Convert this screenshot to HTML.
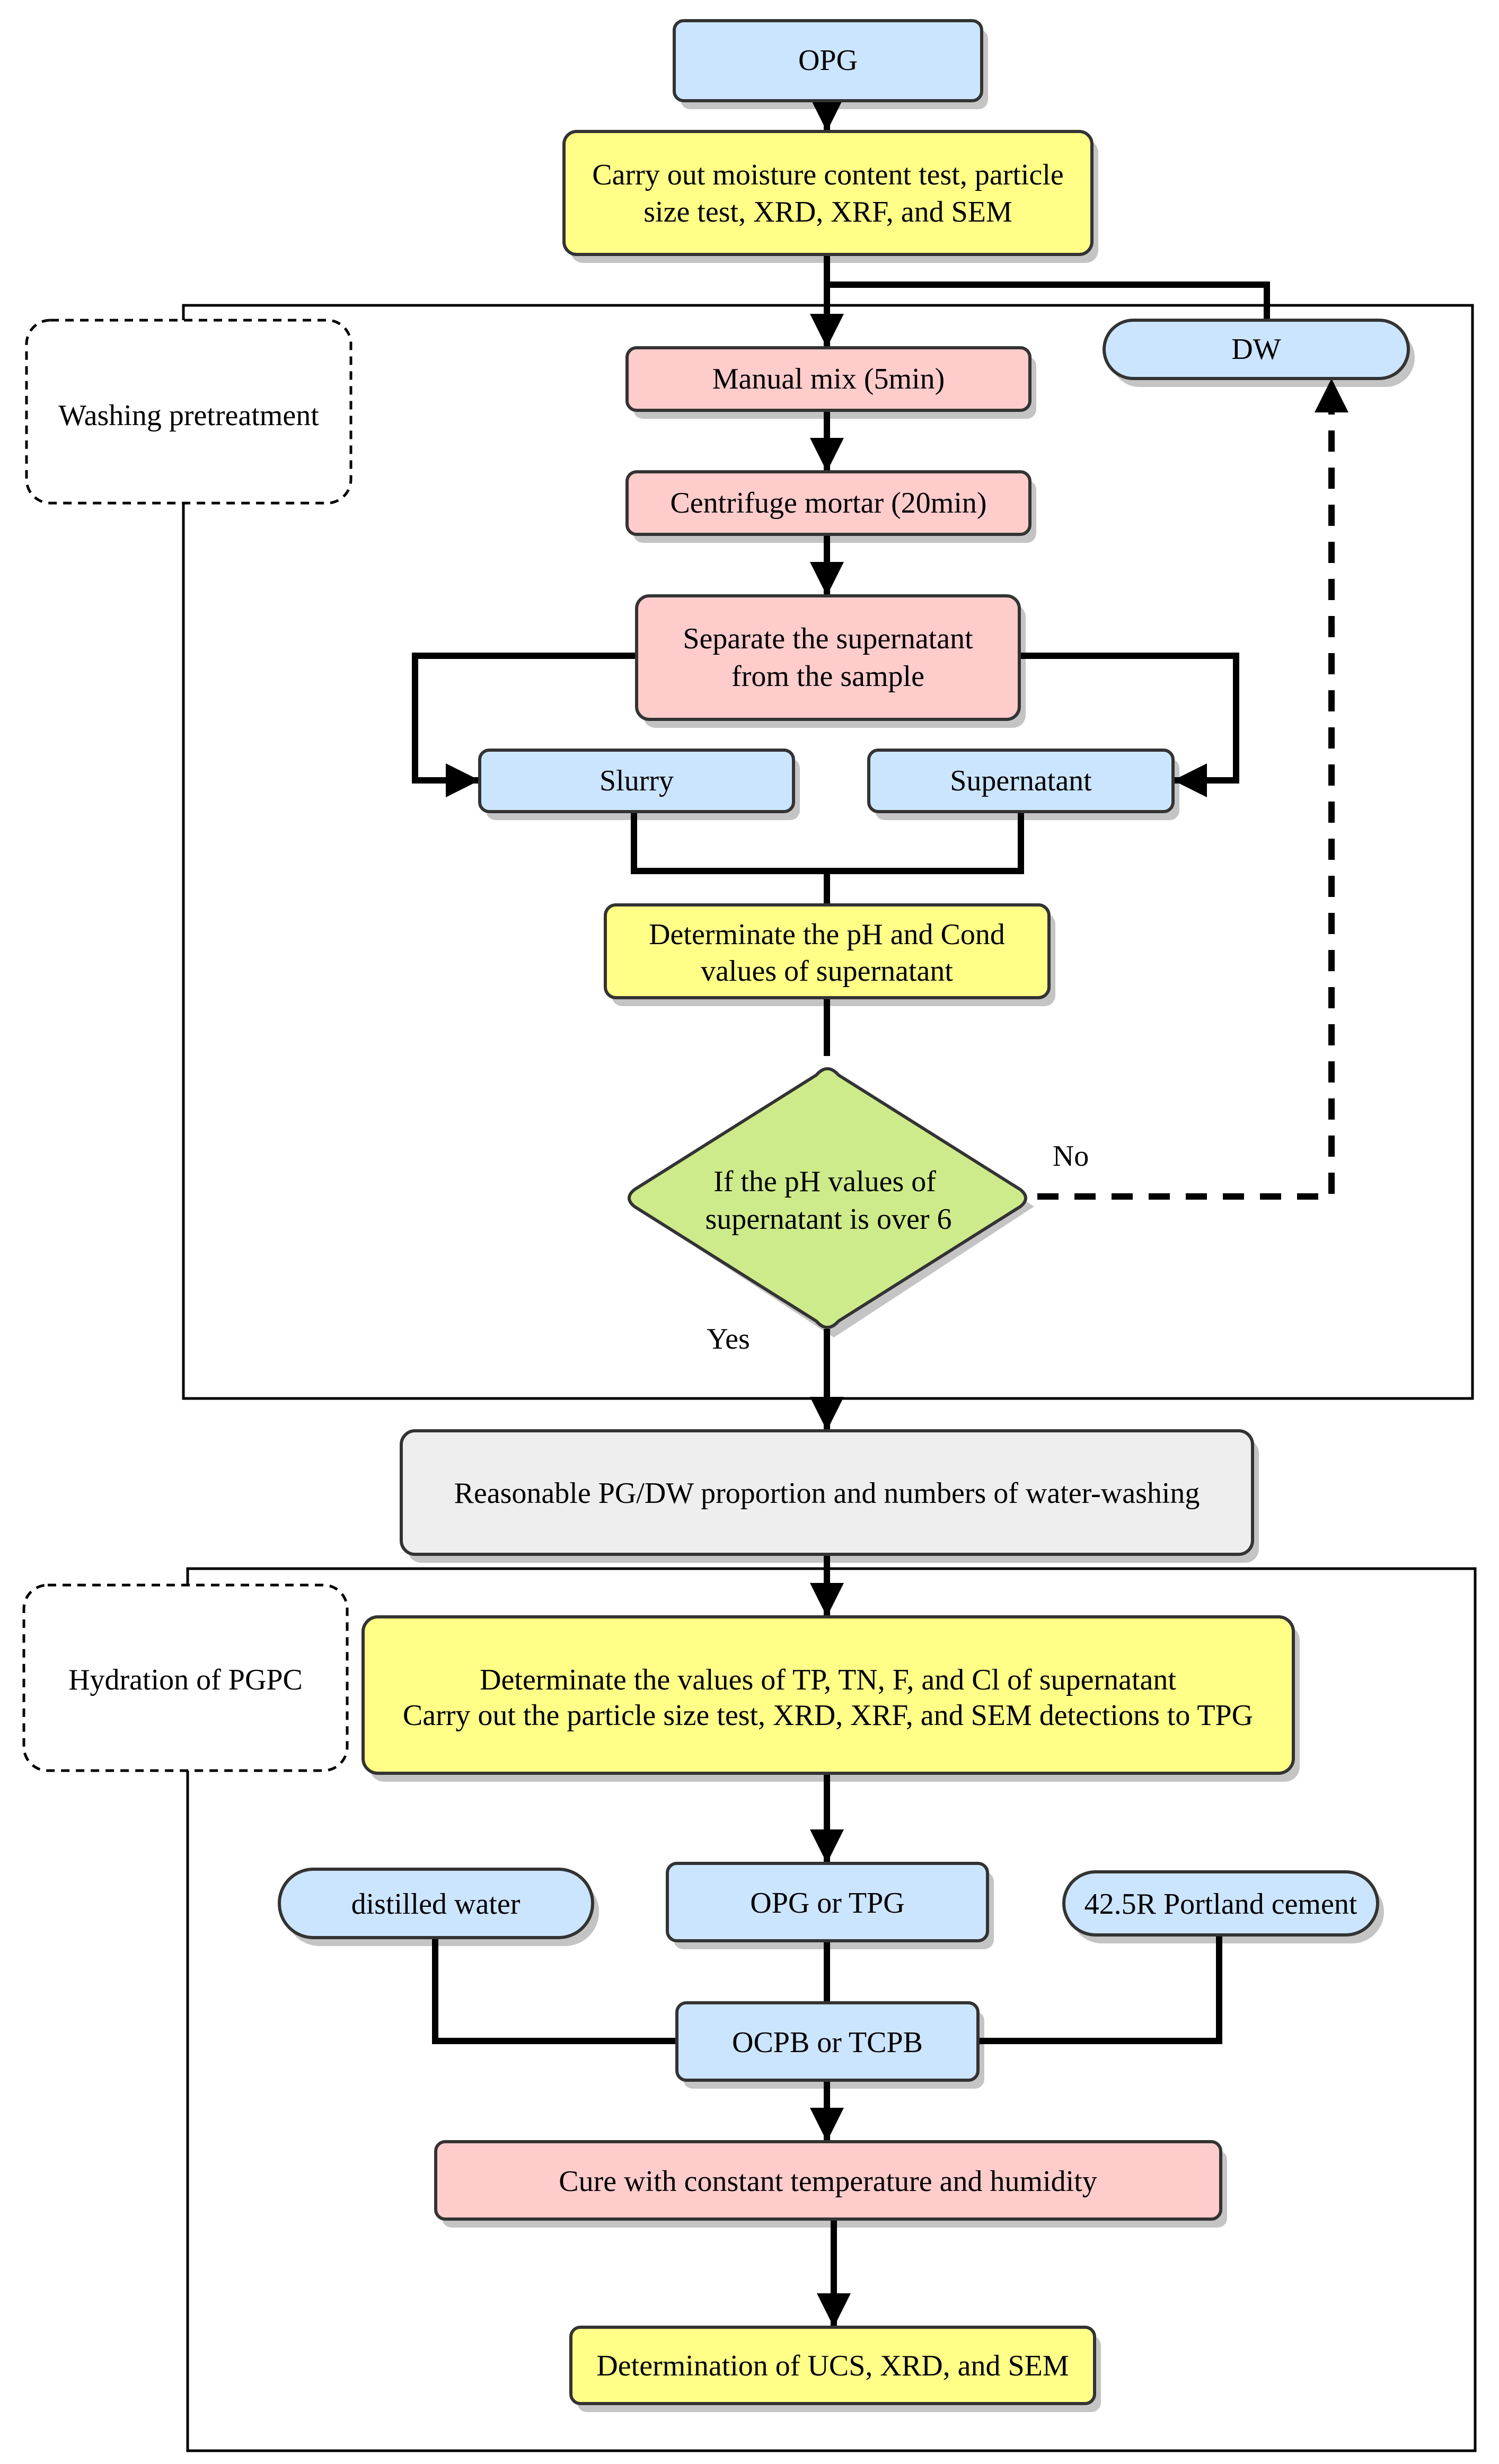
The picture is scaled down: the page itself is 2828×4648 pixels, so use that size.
<!DOCTYPE html>
<html><head><meta charset="utf-8"><style>html,body{margin:0;padding:0;background:#fff}svg{display:block}svg text{font-family:"Liberation Serif","Times New Roman","DejaVu Serif",serif;font-size:56px;fill:#000;text-anchor:middle;dominant-baseline:central}</style></head>
<body>
<svg width="2828" height="4648" viewBox="0 0 2828 4648" xmlns="http://www.w3.org/2000/svg">
<defs>
<marker id="ah" markerUnits="userSpaceOnUse" markerWidth="64" markerHeight="64" refX="62" refY="32" orient="auto"><path d="M0,0 L64,32 L0,64 z" fill="#000"/></marker>
</defs>
<rect x="346" y="576" width="2432" height="2062" fill="none" stroke="#000" stroke-width="5"/>
<rect x="354" y="2959" width="2429" height="1664" fill="none" stroke="#000" stroke-width="5"/>
<rect x="50" y="604" width="612" height="345" rx="45" fill="#fff" stroke="#000" stroke-width="5" stroke-dasharray="16 12"/>
<rect x="45" y="2990" width="610" height="350" rx="45" fill="#fff" stroke="#000" stroke-width="5" stroke-dasharray="16 12"/>

<g fill="#c4c4c4">
<rect x="1284" y="55" width="580" height="151" rx="18"/>
<rect x="1076" y="264" width="996" height="232" rx="24"/>
<rect x="2095" y="620" width="574" height="110" rx="55"/>
<rect x="1195" y="672" width="760" height="118" rx="18"/>
<rect x="1195" y="906" width="760" height="118" rx="18"/>
<rect x="1213" y="1140" width="722" height="233" rx="24"/>
<rect x="917" y="1431" width="592" height="116" rx="18"/>
<rect x="1651" y="1431" width="574" height="116" rx="18"/>
<rect x="1154" y="1723" width="837" height="175" rx="20"/>
<path d="M1573,2030 L1951,2276 L1573,2523 L1196,2276 z"/>
<rect x="769" y="2715" width="1606" height="233" rx="26"/>
<rect x="697" y="3066" width="1755" height="295" rx="28"/>
<rect x="539" y="3542" width="591" height="129" rx="64"/>
<rect x="1271" y="3531" width="604" height="146" rx="18"/>
<rect x="2019" y="3547" width="592" height="119" rx="60"/>
<rect x="1289" y="3794" width="568" height="146" rx="18"/>
<rect x="834" y="4056" width="1481" height="146" rx="18"/>
<rect x="1089" y="4406" width="988" height="144" rx="18"/>
</g>

<g stroke="#000" stroke-width="12" fill="none">
<line x1="1560" y1="190" x2="1560" y2="246" marker-end="url(#ah)"/>
<line x1="1560" y1="480" x2="1560" y2="654" marker-end="url(#ah)"/>
<polyline points="1560,537 2390,537 2390,604"/>
<line x1="1560" y1="774" x2="1560" y2="888" marker-end="url(#ah)"/>
<line x1="1560" y1="1008" x2="1560" y2="1122" marker-end="url(#ah)"/>
<polyline points="1201,1237 783,1237 783,1472 903,1472" marker-end="url(#ah)"/>
<polyline points="1923,1237 2332,1237 2332,1472 2215,1472" marker-end="url(#ah)"/>
<polyline points="1196,1531 1196,1643 1926,1643 1926,1531"/>
<line x1="1560" y1="1643" x2="1560" y2="1707"/>
<line x1="1560" y1="1882" x2="1560" y2="1992"/>
<line x1="1560" y1="2507" x2="1560" y2="2697" marker-end="url(#ah)"/>
<line x1="1560" y1="2932" x2="1560" y2="3048" marker-end="url(#ah)"/>
<line x1="1560" y1="3345" x2="1560" y2="3513" marker-end="url(#ah)"/>
<line x1="1560" y1="3661" x2="1560" y2="3778"/>
<polyline points="821,3655 821,3850 1277,3850"/>
<polyline points="2300,3650 2300,3850 1845,3850"/>
<line x1="1560" y1="3924" x2="1560" y2="4038" marker-end="url(#ah)"/>
<line x1="1573" y1="4186" x2="1573" y2="4388" marker-end="url(#ah)"/>
<polyline points="1957,2257 2512,2257 2512,716" stroke-dasharray="40 30" marker-end="url(#ah)"/>
</g>

<g stroke="#333" stroke-width="6">
<rect x="1272" y="39" width="580" height="151" rx="18" fill="#cce5ff"/>
<rect x="1064" y="248" width="996" height="232" rx="24" fill="#ffff88"/>
<rect x="2083" y="604" width="574" height="110" rx="55" fill="#cce5ff"/>
<rect x="1183" y="656" width="760" height="118" rx="18" fill="#ffcccc"/>
<rect x="1183" y="890" width="760" height="118" rx="18" fill="#ffcccc"/>
<rect x="1201" y="1124" width="722" height="233" rx="24" fill="#ffcccc"/>
<rect x="905" y="1415" width="592" height="116" rx="18" fill="#cce5ff"/>
<rect x="1639" y="1415" width="574" height="116" rx="18" fill="#cce5ff"/>
<rect x="1142" y="1707" width="837" height="175" rx="20" fill="#ffff88"/>
<path d="M1540,2028 Q1561,2004 1582,2028 L1925,2244 Q1945,2260 1925,2276 L1582,2492 Q1561,2516 1540,2492 L1197,2276 Q1177,2260 1197,2244 z" fill="#cdeb8b"/>
<rect x="757" y="2699" width="1606" height="233" rx="26" fill="#eeeeee"/>
<rect x="685" y="3050" width="1755" height="295" rx="28" fill="#ffff88"/>
<rect x="527" y="3526" width="591" height="129" rx="64" fill="#cce5ff"/>
<rect x="1259" y="3515" width="604" height="146" rx="18" fill="#cce5ff"/>
<rect x="2007" y="3531" width="592" height="119" rx="60" fill="#cce5ff"/>
<rect x="1277" y="3778" width="568" height="146" rx="18" fill="#cce5ff"/>
<rect x="822" y="4040" width="1481" height="146" rx="18" fill="#ffcccc"/>
<rect x="1077" y="4390" width="988" height="144" rx="18" fill="#ffff88"/>
</g>

<g font-family="Liberation Serif, Times New Roman, DejaVu Serif, serif">
<text x="356" y="784">Washing pretreatment</text>
<text x="350" y="3169">Hydration of  PGPC</text>
<text x="1562" y="114">OPG</text>
<text x="1562" y="330">Carry out moisture content test,  particle</text>
<text x="1562" y="400">size test, XRD, XRF, and SEM</text>
<text x="2370" y="659">DW</text>
<text x="1563" y="715">Manual mix (5min)</text>
<text x="1563" y="949">Centrifuge mortar (20min)</text>
<text x="1562" y="1205">Separate the supernatant</text>
<text x="1562" y="1276">from the sample</text>
<text x="1201" y="1473">Slurry</text>
<text x="1926" y="1473">Supernatant</text>
<text x="1560" y="1763">Determinate the pH and Cond</text>
<text x="1560" y="1832">values of supernatant</text>
<text x="1556" y="2229">If the pH values of</text>
<text x="1563" y="2300">supernatant is over 6</text>
<text x="2020" y="2181">No</text>
<text x="1374" y="2526">Yes</text>
<text x="1560" y="2817">Reasonable PG/DW proportion and numbers of water-washing</text>
<text x="1562" y="3169">Determinate the values of TP, TN, F, and Cl of supernatant</text>
<text x="1562" y="3236">Carry out the particle size test, XRD, XRF, and SEM detections to TPG</text>
<text x="822" y="3592">distilled water</text>
<text x="1561" y="3590">OPG or TPG</text>
<text x="2303" y="3592">42.5R Portland cement</text>
<text x="1561" y="3853">OCPB or TCPB</text>
<text x="1562" y="4115">Cure with constant temperature and humidity</text>
<text x="1571" y="4463">Determination of UCS, XRD, and SEM</text>
</g>
</svg>
</body></html>
